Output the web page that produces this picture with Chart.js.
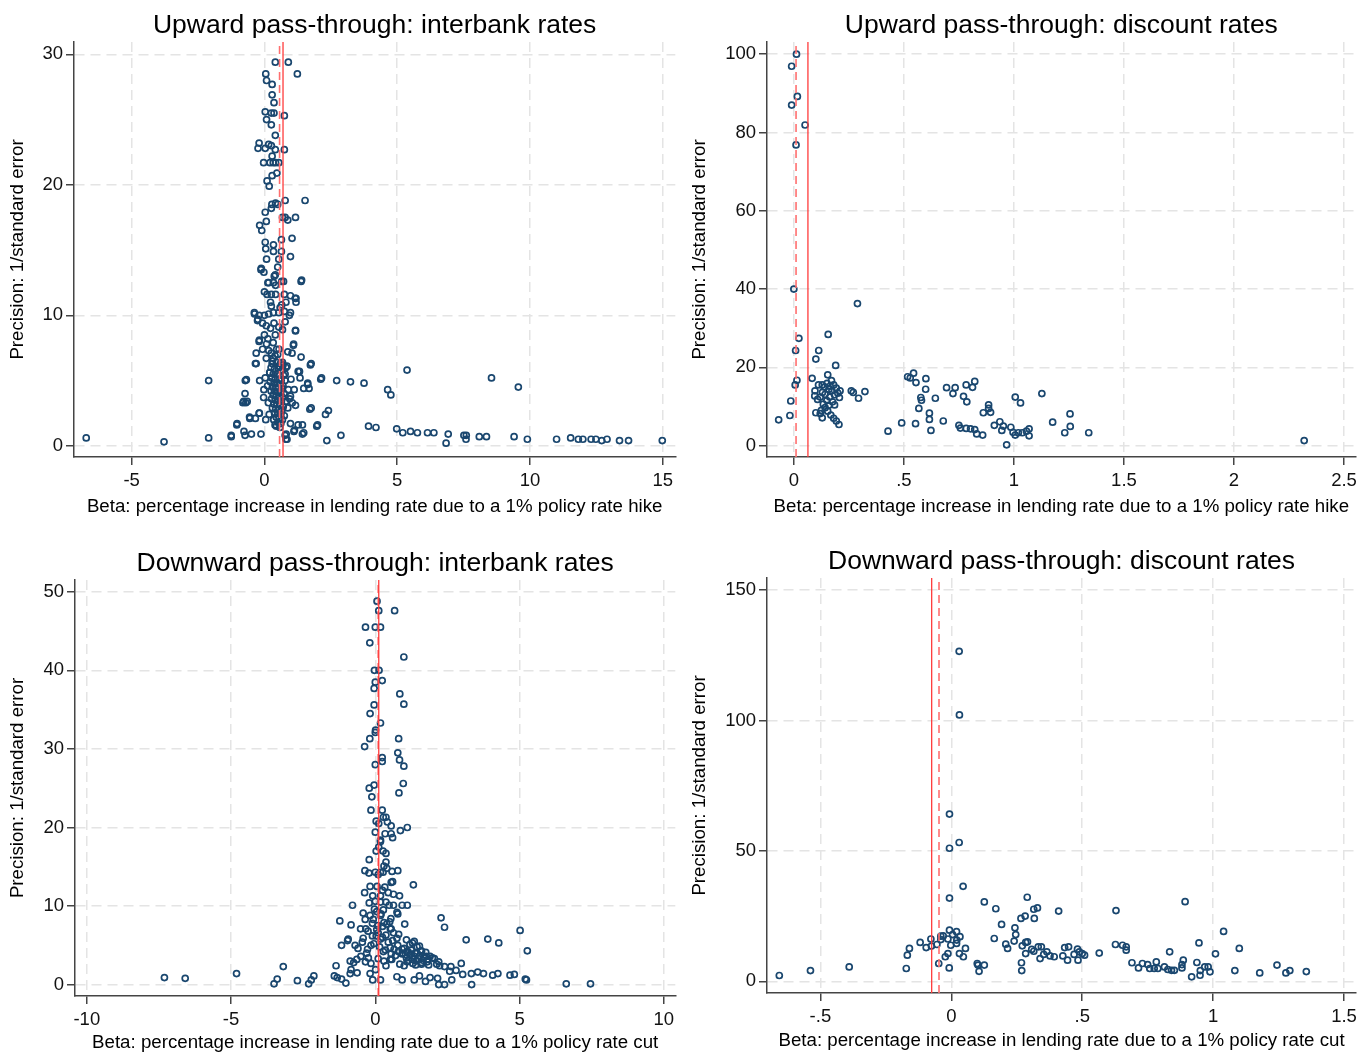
<!DOCTYPE html>
<html>
<head>
<meta charset="utf-8">
<title>Pass-through funnel plots</title>
<script src="https://cdn.jsdelivr.net/npm/chart.js@4.4.1/dist/chart.umd.min.js"></script>
<style>
    body { margin: 0; background: #fff; }
    canvas { position: absolute; }
</style>
</head>
<body>
<canvas id="up-interbank" width="681" height="527" style="left:0;top:0"></canvas>
<canvas id="up-discount" width="681" height="527" style="left:681px;top:0"></canvas>
<canvas id="down-interbank" width="681" height="527" style="left:0;top:527px"></canvas>
<canvas id="down-discount" width="681" height="527" style="left:681px;top:527px"></canvas>
<script>
// ------------------------------------------------------------------------
// Data: [beta, precision] pairs
// ------------------------------------------------------------------------
const upInterbank = [
    [0.41,29.4],[0.9,29.4],[1.24,28.5],[0.05,28.5],[0.08,28.0],[0.29,27.7],[0.29,26.9],[0.36,26.3],[0.03,25.6],[0.26,25.5],
    [0.36,25.5],[0.75,25.3],[0.08,25.0],[0.26,24.6],[0.41,23.8],[-0.2,23.2],[-0.24,22.8],[0.03,22.8],[0.16,23.1],[0.26,23.0],
    [0.41,22.7],[0.75,22.7],[0.29,22.2],[-0.03,21.7],[0.21,21.7],[0.33,21.7],[0.42,21.7],[0.54,21.7],[0.47,20.9],[0.29,20.7],
    [0.1,20.3],[0.18,19.9],[0.78,18.8],[1.53,18.8],[0.42,18.6],[0.5,18.5],[0.28,18.5],[0.26,18.2],[0.03,17.9],[0.68,17.5],
    [0.78,17.5],[0.88,17.3],[1.17,17.5],[0.07,17.2],[-0.18,16.9],[-0.1,16.5],[0.64,15.8],[1.04,15.9],[0.03,15.6],[0.34,15.4],
    [0.05,15.1],[0.34,14.9],[0.64,14.9],[0.08,14.3],[0.54,14.3],[0.98,14.5],[0.5,13.7],[-0.13,13.5],[-0.02,13.3],[0.37,13.0],
    [1.38,12.6],[0.13,12.5],[0.34,12.5],[0.42,12.3],[0.65,12.6],[0.72,12.6],[0,11.8],[0.1,11.6],[0.26,11.6],[0.42,11.6],
    [0.75,11.6],[0.98,11.5],[1.16,11.3],[1.19,11.0],[0.23,11.0],[0.81,11.0],[0.26,10.7],[0.65,10.8],[0.59,10.6],[-0.37,10.1],
    [-0.2,10.0],[0,10.0],[0.16,10.1],[0.34,10.2],[0.54,10.2],[0.75,10.3],[0.94,10.0],[-0.26,9.6],[-0.07,9.4],[0.07,9.2],
    [0.36,9.4],[0.78,9.5],[0.23,9.0],[0.54,9.1],[0.68,8.9],[1.17,8.8],[0,8.5],[0.41,8.5],[0.13,8.2],[-0.2,8.0],
    [0.33,7.9],[0.08,7.8],[1.09,7.7],[-0.07,7.4],[0.46,7.4],[0.16,7.3],[-0.31,7.1],[0.26,7.1],[0.88,7.2],[1.04,7.1],
    [0.5,7.0],[1.38,6.8],[0.07,6.7],[0.33,6.7],[0.68,6.4],[1.73,6.2],[-0.34,6.3],[0.29,6.3],[0.54,6.1],[0.81,6.0],
    [5.37,5.8],[1.27,5.7],[0.2,5.6],[0.5,5.5],[0.78,5.5],[1.34,5.2],[2.12,5.1],[8.55,5.2],[-2.1,5.0],[-0.72,5.0],
    [-0.18,5.0],[0.03,5.2],[2.72,5.0],[3.24,4.9],[3.75,4.8],[1.63,4.7],[9.56,4.5],[1.68,4.4],[4.64,4.3],[4.76,3.9],
    [-0.02,4.3],[1.12,4.3],[-0.73,4.0],[-0.81,3.3],[-0.7,3.3],[-0.03,3.7],[0.98,3.8],[1.17,3.1],[1.71,2.8],[2.41,2.7],
    [2.3,2.4],[-0.2,2.5],[-0.55,2.1],[-0.34,2.1],[0.05,2.0],[-1.04,1.6],[1.97,1.5],[3.92,1.5],[4.2,1.4],[4.98,1.3],
    [5.21,1.0],[5.5,1.1],[5.76,1.0],[6.14,1.0],[6.38,1.0],[6.92,0.9],[7.51,0.8],[7.6,0.8],[8.09,0.7],[8.36,0.7],
    [9.4,0.7],[9.9,0.5],[11.0,0.5],[11.53,0.6],[11.82,0.5],[11.99,0.5],[12.3,0.5],[12.48,0.5],[12.7,0.4],[12.9,0.5],
    [13.37,0.4],[13.71,0.4],[14.98,0.4],[6.84,0.2],[7.59,0.5],[-6.71,0.6],[-3.78,0.3],[-2.1,0.6],[-1.25,0.7],[-0.73,0.8],
    [-0.49,0.9],[-0.13,0.9],[-0.77,1.1],[0.78,0.8],[0.81,0.5],[1.11,1.1],[1.43,0.9],[2.35,0.4],[2.88,0.8],[1.43,1.6],
    [0.98,1.7],[1.27,1.6],[-0.12,13.6],[0.41,13.1],[1.4,12.7],[0.16,12.5],[1.19,11.3],[-0.38,10.2],[-0.25,9.7],[0.98,10.2],
    [1.17,8.85],[-0.19,8.1],[1.1,7.8],[-0.31,6.3],[1.76,6.3],[-0.68,5.07],[2.15,5.2],[1.32,5.7],[-0.78,3.4],[-0.65,3.4],
    [1.63,4.8],[1.48,4.4],[1.76,2.9],[2.0,1.6],[-1.03,1.7],[-1.25,0.8],[-0.56,2.2],[-0.19,2.5],[1.13,1.2],[1.48,1.0],
    [0.82,0.9],[0.85,0.5],[0.4,1.6],
    [0.3,6.5],[0.45,6.4],[0.6,6.3],[0.7,6.2],[0.25,6.0],[0.38,5.9],[0.52,5.9],[0.66,5.8],[0.2,5.6],[0.33,5.5],
    [0.47,5.5],[0.58,5.4],[0.72,5.4],[0.28,5.2],[0.41,5.1],[0.55,5.1],[0.63,5.0],[0.78,5.0],[0.22,4.9],[0.36,4.8],
    [0.49,4.8],[0.6,4.7],[0.7,4.6],[0.3,4.5],[0.43,4.5],[0.53,4.4],[0.67,4.4],[0.25,4.2],[0.38,4.2],[0.5,4.1],
    [0.62,4.1],[0.74,4.0],[0.33,3.9],[0.45,3.8],[0.57,3.8],[0.69,3.7],[0.27,3.6],[0.4,3.5],[0.52,3.5],[0.64,3.4],
    [0.8,3.4],[0.35,3.2],[0.47,3.2],[0.6,3.1],[0.71,3.0],[0.3,2.9],[0.42,2.8],[0.55,2.8],[0.66,2.7],[0.38,2.5],
    [0.5,2.5],[0.62,2.4],[0.75,2.3],[0.44,2.2],[0.56,2.1],[0.68,2.0],[0.35,2.0],[0.5,1.8],[0.62,1.7],[0.45,1.5],
    [0.58,1.4],[0.9,4.3],[0.95,3.6],[0.88,2.9],[1.0,5.1],[0.15,3.3],[0.12,4.6],[0.18,2.4],[0.85,6.1],[1.05,3.3],
    [0.4,6.9],[0.55,7.4]
];
const upInterbankMeans = [0.70, 0.57];   // solid, dashed
const upInterbankXTicks = [-5, 0, 5, 10, 15];
const upInterbankXLabels = ['-5', '0', '5', '10', '15'];
const upInterbankYTicks = [0, 10, 20, 30];

const upDiscount = [
    [0.012,100],[-0.01,96.9],[0.016,89.2],[-0.01,87.0],[0.051,81.9],[0.01,76.8],[0.0,40.0],
    [0.083,17.2],[0.154,18.1],[0.1,22.1],[0.113,24.3],[0.156,28.4],[0.19,20.5],[0.112,15.5],[0.129,15.5],[0.151,15.9],
    [0.171,16.6],[0.181,15.5],[0.193,14.7],[0.21,14.0],[0.096,14.0],[0.13,13.6],[0.159,14.4],[0.173,14.0],[0.095,12.7],
    [0.108,11.8],[0.12,12.4],[0.142,13.1],[0.163,12.4],[0.185,13.0],[0.207,12.3],[0.134,10.6],[0.142,9.7],[0.159,10.3],
    [0.185,10.4],[0.1,8.4],[0.12,8.2],[0.129,7.1],[0.154,8.8],[0.168,7.8],[0.181,7.0],[0.193,6.3],[0.205,5.4],
    [0.261,14.0],[0.27,13.6],[0.294,12.1],[0.323,13.8],[-0.014,11.4],[-0.069,6.6],[-0.018,7.7],[0.006,15.5],[0.014,16.7],
    [0.008,24.3],[0.023,27.4],[0.289,36.3],[0.428,3.7],[0.49,5.8],[0.553,5.6],[0.623,3.9],[0.568,9.5],[0.577,12.3],
    [0.58,11.6],[0.616,8.3],[0.616,6.7],[0.643,12.1],[0.679,6.3],[0.517,17.6],[0.529,17.3],[0.544,18.5],[0.555,16.1],
    [0.6,17.1],[0.599,14.4],[0.694,14.8],[0.733,14.8],[0.723,13.3],[0.783,15.5],[0.812,14.9],[0.822,16.4],[0.771,12.6],
    [0.786,11.2],[0.861,8.4],[0.885,10.4],[0.885,9.5],[0.894,8.5],[0.75,5.2],[0.757,4.5],[0.783,4.4],[0.803,4.3],
    [0.822,4.1],[0.831,3.0],[0.858,2.7],[0.911,5.2],[0.936,6.1],[0.952,5.0],[0.945,3.9],[0.986,4.7],[0.996,3.4],
    [1.006,2.7],[1.02,3.3],[1.038,3.3],[1.057,3.7],[1.069,4.3],[1.069,2.5],[0.967,0.2],[1.006,12.4],[1.03,10.9],
    [1.127,13.3],[1.176,6.0],[1.255,8.1],[1.256,4.9],[1.231,3.3],[1.34,3.3],[2.319,1.3],
    [0.14,15.0],[0.165,15.2],[0.15,11.5],[0.176,11.2],[0.125,9.0],[0.2,13.4]
];
const upDiscountMeans = [0.064, 0.01];
const upDiscountXTicks = [0, 0.5, 1, 1.5, 2, 2.5];
const upDiscountXLabels = ['0', '.5', '1', '1.5', '2', '2.5'];
const upDiscountYTicks = [0, 20, 40, 60, 80, 100];

const downInterbank = [
    [0.06,48.8],[0.12,47.6],[0.67,47.6],[-0.34,45.5],[0,45.5],[0.18,45.5],[-0.19,43.5],[0.99,41.7],[-0.03,40.0],[0.13,40.0],
    [0,38.5],[0.24,38.7],[-0.04,37.7],[0.85,37.0],[0.99,35.7],[-0.04,35.6],[-0.18,34.5],[0.18,33.3],[0.01,32.4],[0,32.1],
    [-0.19,31.3],[0.81,31.3],[-0.37,30.3],[0.78,29.5],[0.24,28.9],[0.24,28.4],[0.84,28.6],[0,28.0],[0.99,27.8],[0.97,25.6],
    [-0.04,25.4],[-0.21,25.0],[-0.12,23.9],[0.82,24.4],[-0.15,22.2],[0.24,22.2],[0.28,21.3],[0.37,21.3],[0.03,20.8],[0.12,20.5],
    [0.42,20.7],[0.55,20.2],[1.11,20.0],[0.87,19.6],[0,19.4],[0.34,19.2],[0.55,19.2],[0.6,18.7],[0.18,18.4],[0.18,18.2],
    [0.12,17.5],[0.03,17.0],[0.27,17.0],[0.37,16.7],[-0.21,15.9],[0.37,15.6],[-0.36,14.5],[-0.22,14.2],[0,14.3],[0.18,14.3],
    [0.27,14.3],[0.4,14.8],[0.58,14.4],[0.78,14.5],[0.1,14.0],[0.55,13.0],[1.32,12.7],[-0.18,12.5],[0.06,12.5],[0.33,12.4],
    [-0.37,11.7],[-0.09,11.3],[0.18,11.3],[0.45,11.7],[0.63,11.5],[0.84,11.3],[-0.21,10.4],[0,10.6],[0.18,10.5],[0.37,10.5],
    [0.48,10.1],[0.63,10.1],[0.93,10.1],[1.11,10.1],[-0.79,10.1],[-0.03,9.6],[0.28,9.5],[0.75,9.2],[-0.42,9.1],[-0.18,8.8],
    [0.18,8.8],[0.54,8.4],[0.78,9.0],[-0.07,8.3],[-1.23,8.1],[-0.84,7.6],[1.02,7.7],[-0.51,7.1],[-0.33,7.1],[0.09,7.5],
    [0.25,7.4],[0.52,7.1],[2.28,8.5],[2.4,7.3],[5.02,6.9],[3.15,5.7],[3.9,5.8],[4.28,5.3],[5.27,4.3],[-0.42,5.9],
    [-0.94,5.8],[-0.96,5.6],[-1.17,5.0],[-0.7,5.0],[-0.27,4.5],[-0.15,5.0],[0.03,6.2],[0.18,5.8],[0.37,6.3],[0.55,7.1],
    [0.63,6.6],[0.81,6.4],[1.08,5.7],[1.29,5.3],[1.53,4.9],[0.28,4.2],[0.52,4.7],[0.93,4.5],[1.15,4.1],[1.38,4.0],
    [1.6,4.3],[1.77,3.6],[1.98,3.4],[1.08,3.4],[1.3,3.2],[1.41,3.0],[1.6,2.8],[1.83,3.2],[0.93,3.9],[0.78,5.0],
    [0.52,3.2],[0.57,3.2],[-1.36,2.4],[-0.87,3.0],[-0.75,2.8],[-0.64,3.2],[-0.34,2.9],[-0.24,3.4],[-0.84,1.9],[-0.63,1.5],
    [-0.18,1.4],[0.01,1.9],[0.37,2.4],[0.85,2.6],[1.0,2.4],[2.13,2.6],[2.23,2.4],[2.98,2.7],[2.62,2.3],[2.58,1.7],
    [2.8,1.8],[3.03,1.3],[3.33,1.4],[3.55,1.6],[3.75,1.4],[4.07,1.2],[4.25,1.4],[4.67,1.2],[4.82,1.3],[5.2,0.7],
    [5.24,0.6],[-1.42,1.1],[-1.32,0.9],[-1.17,0.7],[-1.02,0.2],[-0.87,1.4],[-0.09,0.6],[0.18,0.6],[0.75,1.0],[0.93,0.6],
    [1.35,0.6],[1.53,1.1],[1.74,0.4],[1.9,0.9],[2.16,0.8],[2.2,0.0],[2.4,0.0],[2.65,0.6],[3.34,0.0],[6.62,0.1],
    [7.46,0.1],[-7.31,0.9],[-6.59,0.8],[-4.81,1.4],[-3.19,2.3],[-3.4,0.7],[-3.51,0.1],[-2.7,0.5],[-2.13,1.1],[-2.22,0.6],
    [-2.31,0.1],
    [1.0,4.6],[1.1,4.2],[1.2,3.8],[1.25,4.4],[1.35,3.6],[1.45,4.0],[1.5,3.3],[1.55,3.7],[1.65,3.1],[1.7,3.5],
    [1.8,2.9],[1.15,3.1],[1.3,2.7],[1.4,2.5],[1.05,3.8],[1.6,4.2],[1.75,4.1],[1.9,3.6],[2.05,3.3],[1.2,5.1],
    [1.45,4.8],[1.35,5.5],[0.95,4.0],[1.1,2.9],[1.6,2.6],[1.85,2.5],[2.2,2.9],[2.4,2.3],
    [0.05,9.3],[0.2,9.0],[0.3,7.9],[-0.1,7.8],[0.4,7.7],[-0.25,6.8],[0.1,6.6],[0.25,6.0],[0.45,5.4],[-0.05,5.2],
    [0.15,4.8],[0.35,4.4],[-0.3,4.0],[0.55,3.9],[0.7,3.7],[-0.5,3.6],[0.1,3.3],[0.3,3.0],[-0.15,2.7],[0.65,4.5],
    [0.8,4.2],[-0.6,4.6],[-0.45,5.4],[0.6,5.6],[0.75,5.9],[-0.1,6.2],[0.05,7.0],[0.5,8.0],[-0.35,8.3],[0.25,12.0],
    [0.6,13.1],[0.3,15.1]
];
const downInterbankMeans = [0.12, 0.10];
const downInterbankXTicks = [-10, -5, 0, 5, 10];
const downInterbankXLabels = ['-10', '-5', '0', '5', '10'];
const downInterbankYTicks = [0, 10, 20, 30, 40, 50];

const downDiscount = [
    [0.03,126.5],[0.031,102.1],[-0.007,64.1],[0.03,53.2],[-0.007,51.0],[0.045,36.4],[-0.007,31.9],[0.29,32.2],[0.893,30.5],
    [0.126,30.4],[0.17,27.8],[0.329,28.1],[0.315,27.6],[0.317,24.1],[0.282,25.0],[0.266,24.1],[0.41,26.9],[0.629,27.1],
    [0.192,21.8],[0.243,20.5],[0.246,17.9],[0.24,15.4],[1.04,19.1],[0.164,16.4],[-0.119,14.9],[-0.078,16.2],[-0.096,12.9],
    [-0.16,12.6],[-0.168,10.0],[-0.172,4.9],[-0.657,2.2],[-0.538,4.1],[-0.39,5.5],[-0.048,6.8],[-0.008,5.1],[-0.076,13.5],
    [-0.055,14.1],[-0.04,17.3],[-0.031,17.4],[-0.007,19.6],[0.02,19.0],[0.005,17.9],[-0.013,16.2],[0.033,17.1],[0.021,15.8],
    [-0.002,13.8],[0.02,14.5],[0.054,12.6],[0.031,10.6],[-0.013,10.6],[-0.023,9.4],[0.046,9.4],[-0.04,16.0],[0.099,6.8],
    [0.106,3.8],[0.102,6.2],[0.126,6.2],[0.268,7.1],[0.269,4.1],[0.208,14.2],[0.215,12.6],[0.271,13.6],[0.284,14.9],
    [0.291,15.1],[0.284,10.6],[0.307,12.2],[0.332,13.2],[0.344,13.2],[0.315,11.5],[0.339,8.7],[0.353,10.3],[0.365,11.3],
    [0.377,9.7],[0.393,9.4],[0.426,9.7],[0.433,12.9],[0.448,13.2],[0.444,8.1],[0.469,10.3],[0.482,12.3],[0.489,11.3],
    [0.484,8.1],[0.5,10.6],[0.509,10.0],[0.565,10.8],[0.627,14.1],[0.654,13.8],[0.668,13.2],[0.668,11.9],[0.69,7.1],
    [0.715,5.1],[0.73,6.8],[0.75,6.4],[0.758,4.9],[0.775,4.9],[0.783,7.4],[0.789,4.9],[0.814,5.5],[0.827,4.5],[0.841,4.2],
    [0.852,4.2],[0.834,11.3],[0.881,6.4],[0.886,8.1],[0.881,5.1],[0.918,1.7],[0.938,7.2],[0.946,14.7],[0.951,4.1],[0.95,2.3],
    [0.968,5.5],[0.981,5.5],[0.988,3.6],[1.009,10.5],[1.083,4.1],[1.1,12.6],[1.178,3.2],[1.244,6.2],[1.278,3.2],[1.293,4.1],
    [1.356,3.7]
];
const downDiscountMeans = [-0.075, -0.047];
const downDiscountXTicks = [-0.5, 0, 0.5, 1, 1.5];
const downDiscountXLabels = ['-.5', '0', '.5', '1', '1.5'];
const downDiscountYTicks = [0, 50, 100, 150];

// ------------------------------------------------------------------------
// Shared styling
// ------------------------------------------------------------------------
const FONT = "'Liberation Sans', Arial, sans-serif";
const NAVY = '#1a476f';
const AXIS = '#444';
const GRID = '#e4e4e4';
const Y_TITLE = 'Precision: 1/standard error';

Chart.defaults.font.family = FONT;

function funnelPlot(id, p) {
    const ctx = document.getElementById(id);
    const [yMin, yMax] = p.yRange;
    const vline = (x) => [{ x: x, y: yMin }, { x: x, y: yMax }];

    new Chart(ctx, {
        type: 'scatter',
        data: {
            datasets: [
                {
                    data: p.points.map(([x, y]) => ({ x, y })),
                    pointRadius: 3,
                    borderWidth: 1.7,
                    borderColor: NAVY,
                    backgroundColor: 'rgba(0,0,0,0)',
                    order: 2
                },
                {
                    data: vline(p.means[0]),
                    showLine: true,
                    pointRadius: 0,
                    borderColor: '#ff3b3b',
                    borderWidth: 1.3,
                    order: 0
                },
                {
                    data: vline(p.means[1]),
                    showLine: true,
                    pointRadius: 0,
                    borderColor: '#ff6f6f',
                    borderWidth: 1.6,
                    borderDash: [8, 5],
                    order: 1
                }
            ]
        },
        options: {
            responsive: false,
            animation: false,
            events: [],
            layout: { padding: { left: 0, right: 4, top: 0, bottom: 0 } },
            plugins: {
                legend: { display: false },
                tooltip: { enabled: false },
                title: {
                    display: true,
                    text: p.title,
                    fullSize: false,
                    color: '#000',
                    font: { size: 26.5, weight: 'normal' },
                    padding: { top: p.titleTop, bottom: p.titleBottom }
                }
            },
            scales: {
                x: {
                    type: 'linear',
                    min: p.xRange[0],
                    max: p.xRange[1],
                    afterBuildTicks: s => { s.ticks = p.xTicks.map(v => ({ value: v })); },
                    afterFit: s => { s.height = p.xAxisHeight; },
                    ticks: {
                        autoSkip: false,
                        maxRotation: 0,
                        padding: 5,
                        color: '#111',
                        font: { size: 18.5 },
                        callback: (v, i) => p.xLabels[i]
                    },
                    grid: { color: GRID, lineWidth: 1.5, tickLength: 8, tickColor: AXIS, tickWidth: 1.5 },
                    border: { color: AXIS, width: 1.5, dash: [10, 6] },
                    title: {
                        display: true,
                        text: p.xTitle,
                        color: '#000',
                        font: { size: 18.7 },
                        padding: { top: 0, bottom: p.xTitlePad }
                    }
                },
                y: {
                    type: 'linear',
                    min: yMin,
                    max: yMax,
                    afterBuildTicks: s => { s.ticks = p.yTicks.map(v => ({ value: v })); },
                    afterFit: s => { s.width = p.yAxisWidth; },
                    ticks: {
                        autoSkip: false,
                        padding: 3,
                        color: '#111',
                        font: { size: 18.5 },
                        callback: (v) => String(v)
                    },
                    grid: { color: GRID, lineWidth: 1.5, tickLength: 8, tickColor: AXIS, tickWidth: 1.5 },
                    border: { color: AXIS, width: 1.5, dash: [10, 6] },
                    title: {
                        display: true,
                        text: Y_TITLE,
                        color: '#000',
                        font: { size: 18.7 },
                        padding: { top: p.yTitlePad, bottom: 0 }
                    }
                }
            }
        }
    });
}

const HIKE = 'Beta: percentage increase in lending rate due to a 1% policy rate hike';
const CUT = 'Beta: percentage increase in lending rate due to a 1% policy rate cut';

funnelPlot('up-interbank', {
    title: 'Upward pass-through: interbank rates', xTitle: HIKE,
    points: upInterbank, means: upInterbankMeans,
    xTicks: upInterbankXTicks, xLabels: upInterbankXLabels, yTicks: upInterbankYTicks,
    xRange: [-7.17, 15.47], yRange: [-0.86, 30.95],
    titleTop: 10.2, titleBottom: 0, xAxisHeight: 70, yAxisWidth: 74, xTitlePad: 9.3, yTitlePad: 6.8
});

funnelPlot('up-discount', {
    title: 'Upward pass-through: discount rates', xTitle: HIKE,
    points: upDiscount, means: upDiscountMeans,
    xTicks: upDiscountXTicks, xLabels: upDiscountXLabels, yTicks: upDiscountYTicks,
    xRange: [-0.122, 2.553], yRange: [-2.9, 103.1],
    titleTop: 10.2, titleBottom: 0, xAxisHeight: 70, yAxisWidth: 86, xTitlePad: 9.3, yTitlePad: 7.8
});

funnelPlot('down-interbank', {
    title: 'Downward pass-through: interbank rates', xTitle: CUT,
    points: downInterbank, means: downInterbankMeans,
    xTicks: downInterbankXTicks, xLabels: downInterbankXLabels, yTicks: downInterbankYTicks,
    xRange: [-10.41, 10.4], yRange: [-1.45, 51.5],
    titleTop: 21, titleBottom: 0.2, xAxisHeight: 58, yAxisWidth: 75, xTitlePad: 0, yTitlePad: 6.8
});

funnelPlot('down-discount', {
    title: 'Downward pass-through: discount rates', xTitle: CUT,
    points: downDiscount, means: downDiscountMeans,
    xTicks: downDiscountXTicks, xLabels: downDiscountXLabels, yTicks: downDiscountYTicks,
    xRange: [-0.704, 1.546], yRange: [-4.5, 154.6],
    titleTop: 19, titleBottom: 0.2, xAxisHeight: 61, yAxisWidth: 86, xTitlePad: 1.8, yTitlePad: 7.8
});
</script>
</body>
</html>
